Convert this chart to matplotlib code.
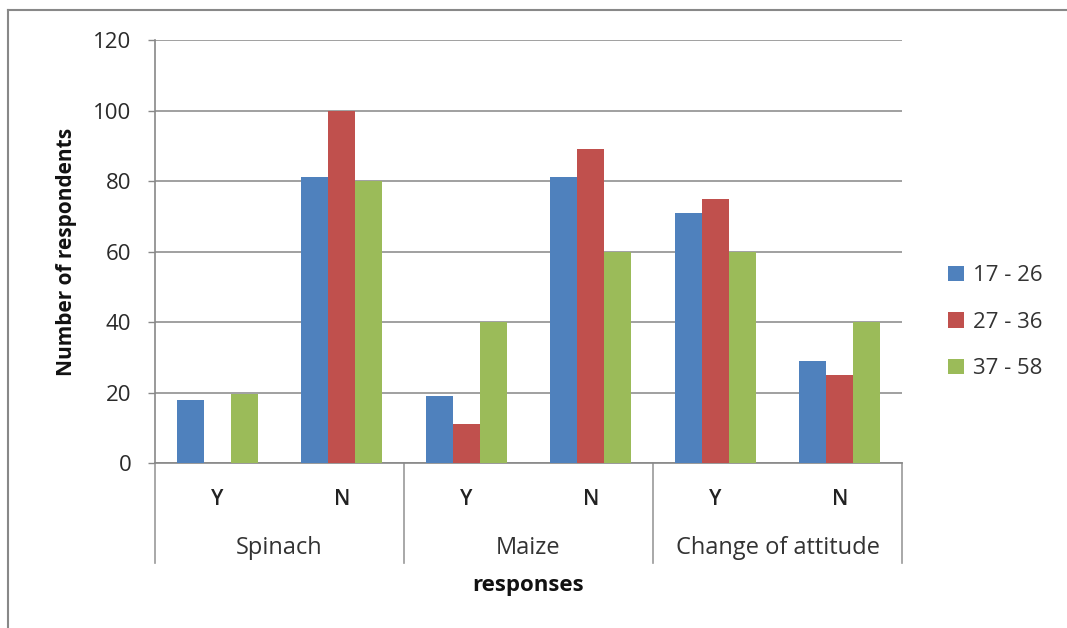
import numpy as np
import matplotlib.pyplot as plt
from matplotlib.lines import Line2D

plt.rcParams['font.family'] = ['Open Sans', 'DejaVu Sans']

groups = ["Spinach", "Maize", "Change of attitude"]
answers = ["Y", "N"]
series = ["17 - 26", "27 - 36", "37 - 58"]
age_17_26 = [18, 81, 19, 81, 71, 29]
age_27_36 = [0, 100, 11, 89, 75, 25]
age_37_58 = [19.5, 80, 40, 60, 60, 40]
colors = ["#4F81BD", "#C0504D", "#9BBB59"]

fig = plt.figure(figsize=(10.67, 6.28), dpi=100)
ax = fig.add_axes([0.1453, 0.2627, 0.7001, 0.6736])

x = np.arange(len(age_17_26))
w = 0.217
for k, (vals, c, lab) in enumerate(zip([age_17_26, age_27_36, age_37_58], colors, series)):
    ax.bar(x + (k - 1) * w, vals, w, color=c, label=lab, zorder=3)

ax.set_xlim(-0.5, len(x) - 0.5)
ax.set_ylim(0, 120)
ax.set_yticks(range(0, 121, 20))
ax.yaxis.grid(True, color="#999999", lw=1.3, zorder=0)
ax.tick_params(axis="y", labelsize=16, colors="#888888", labelcolor="#2a2a2a", length=5, width=1, pad=12)
ax.tick_params(axis="x", length=0)
ax.set_xticks([])
for s in ["top", "right"]:
    ax.spines[s].set_visible(False)
ax.spines["left"].set_color("#888888")
ax.spines["bottom"].set_color("#888888")
ax.spines["left"].set_linewidth(1.2)
ax.spines["bottom"].set_linewidth(1.2)

# two-level category labels
tr = ax.get_xaxis_transform()
for i in x:
    ax.text(i, -0.087, answers[i % 2], transform=tr, ha="center", va="center",
            fontsize=15, fontweight="semibold", color="#222222")
for g, name in enumerate(groups):
    ax.text(2 * g + 0.5, -0.2, name, transform=tr, ha="center", va="center", fontsize=17, color="#333333")
for b in [-0.5, 1.5, 3.5, 5.5]:
    ax.add_line(Line2D([b, b], [0, -0.236], transform=tr, color="#999999", lw=1.2, clip_on=False))

ax.text(0.5, -0.29, "responses", transform=ax.transAxes, ha="center", va="center",
        fontsize=16, fontweight="bold", color="#111111")
ax.set_ylabel("Number of respondents", fontsize=15, fontweight="bold", color="#111111", labelpad=12)

ax.legend(loc="center left", bbox_to_anchor=(1.035, 0.333), frameon=False, fontsize=16,
          handlelength=0.7, handleheight=0.7, handletextpad=0.4, labelspacing=1.15,
          labelcolor="#333333")

# outer chart border
fig.add_artist(Line2D([0.0075, 0.0075], [0.0, 0.984], transform=fig.transFigure, color="#888888", lw=1.5))
fig.add_artist(Line2D([0.0075, 1.0], [0.984, 0.984], transform=fig.transFigure, color="#888888", lw=1.5))

fig.savefig("out.png", dpi=100)
